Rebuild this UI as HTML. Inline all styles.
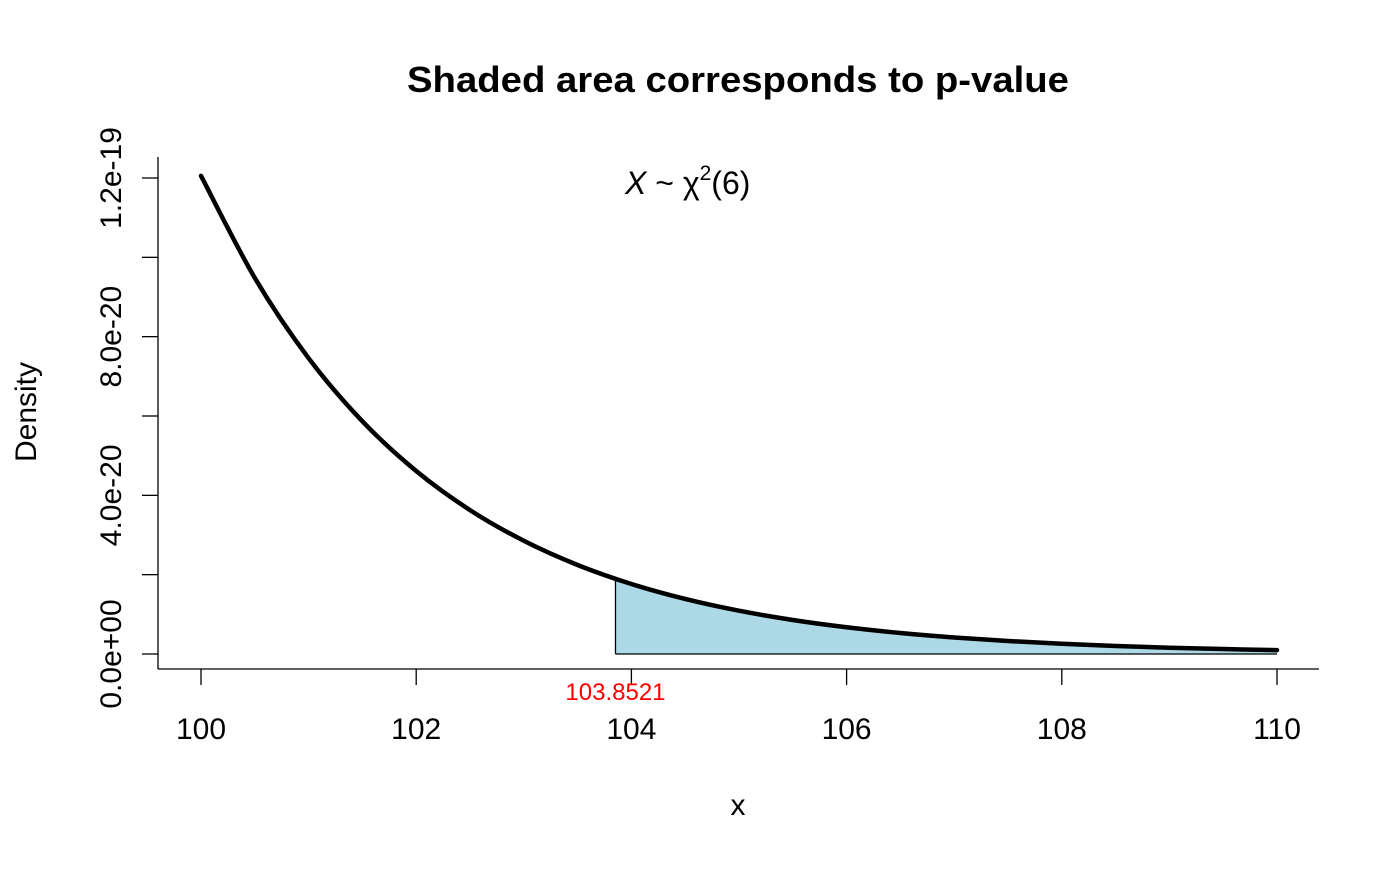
<!DOCTYPE html>
<html><head><meta charset="utf-8"><style>
body{margin:0;background:#fff}
svg text{font-family:"Liberation Sans",Arial,sans-serif}
</style></head><body>
<svg id="chart" width="1400" height="866" xmlns="http://www.w3.org/2000/svg">
<text x="738" y="92" font-size="36" font-weight="bold" text-anchor="middle" textLength="662" lengthAdjust="spacingAndGlyphs">Shaded area corresponds to p-value</text>
<g id="shade"></g>
<path id="curve" fill="none" stroke="#000" stroke-width="4.5" stroke-linecap="round"></path>
<line x1="158" y1="669" x2="1319" y2="669" stroke="#000" stroke-width="1.3"/>
<line x1="158" y1="157" x2="158" y2="669" stroke="#000" stroke-width="1.3"/>
<g id="xticks"></g>
<g id="yticks"></g>
<text x="738" y="815" font-size="30" text-anchor="middle">x</text>
<text transform="translate(36,412) rotate(-90)" font-size="30" text-anchor="middle">Density</text>
<text x="625" y="194" font-size="32"><tspan font-style="italic">X</tspan> ~ χ<tspan dy="-14" font-size="21">2</tspan><tspan dy="14">(6)</tspan></text>
<text id="critlabel" y="700" font-size="24" fill="#ff0000" text-anchor="middle">103.8521</text>
</svg>
<script>
const xs=[100,100.5,101,101.5,102,102.5,103,103.5,104,104.5,105,105.5,106,106.5,107,107.5,108,108.5,109,109.5,110];
const ys=[1.2054e-19,9.482e-20,7.458e-20,5.866e-20,4.614e-20,3.628e-20,2.854e-20,2.244e-20,1.7646e-20,1.3875e-20,1.0909e-20,8.577e-21,6.743e-21,5.301e-21,4.168e-21,3.276e-21,2.575e-21,2.024e-21,1.591e-21,1.2505e-21,9.83e-22];
const xTicks=[100,102,104,106,108,110];
const yTicks=[0,2e-20,4e-20,6e-20,8e-20,1e-19,1.2e-19];
const yTickLabels=["0.0e+00","","4.0e-20","","8.0e-20","","1.2e-19"];
const crit=103.8521;
const NS="http://www.w3.org/2000/svg";
const px=v=>201+(v-100)*(1277-201)/10;
const py=v=>654-v*(654-178)/1.2e-19;
function smooth(pts){let d=`M${pts[0][0]},${pts[0][1]}`;for(let i=0;i<pts.length-1;i++){const p0=pts[Math.max(0,i-1)],p1=pts[i],p2=pts[i+1],p3=pts[Math.min(pts.length-1,i+2)];d+=` C${p1[0]+(p2[0]-p0[0])/6},${p1[1]+(p2[1]-p0[1])/6} ${p2[0]-(p3[0]-p1[0])/6},${p2[1]-(p3[1]-p1[1])/6} ${p2[0]},${p2[1]}`;}return d;}
const pts=xs.map((x,i)=>[px(x),py(ys[i])]);
const curveD=smooth(pts);
document.getElementById('curve').setAttribute('d',curveD);
let k=0;while(xs[k+1]<crit)k++;
const t=(crit-xs[k])/(xs[k+1]-xs[k]);
const yc=ys[k]*Math.pow(ys[k+1]/ys[k],t);
const cx=px(crit);
const sh=document.getElementById('shade');
const cp=document.createElementNS(NS,'clipPath');cp.setAttribute('id','clipc');
const cr=document.createElementNS(NS,'rect');cr.setAttribute('x',cx);cr.setAttribute('y',0);cr.setAttribute('width',1400);cr.setAttribute('height',866);
cp.appendChild(cr);sh.appendChild(cp);
const area=document.createElementNS(NS,'path');


area.setAttribute('d',curveD+` L${px(110)},${py(0)} L${pts[0][0]},${py(0)} Z`);
area.setAttribute('fill','#add8e6');area.setAttribute('clip-path','url(#clipc)');
sh.appendChild(area);
const b1=document.createElementNS(NS,'line');


b1.setAttribute('x1',cx);b1.setAttribute('x2',cx);b1.setAttribute('y1',py(0));b1.setAttribute('y2',py(yc));b1.setAttribute('stroke','#000');b1.setAttribute('stroke-width','1.3');sh.appendChild(b1);
const b2=document.createElementNS(NS,'line');


b2.setAttribute('x1',cx);b2.setAttribute('x2',px(110));b2.setAttribute('y1',py(0));b2.setAttribute('y2',py(0));b2.setAttribute('stroke','#000');b2.setAttribute('stroke-width','1.3');sh.appendChild(b2);
document.getElementById('critlabel').setAttribute('x',cx);
const xg=document.getElementById('xticks');
xTicks.forEach(v=>{const l=document.createElementNS(NS,'line');


l.setAttribute('x1',px(v));l.setAttribute('x2',px(v));l.setAttribute('y1',669);l.setAttribute('y2',685);l.setAttribute('stroke','#000');l.setAttribute('stroke-width','1.3');xg.appendChild(l);
const tx=document.createElementNS(NS,'text');


tx.setAttribute('x',px(v));tx.setAttribute('y',739);tx.setAttribute('font-size','30');tx.setAttribute('text-anchor','middle');tx.textContent=v;xg.appendChild(tx);});
const yg=document.getElementById('yticks');
yTicks.forEach((v,i)=>{const l=document.createElementNS(NS,'line');


l.setAttribute('x1',142);l.setAttribute('x2',158);l.setAttribute('y1',py(v));l.setAttribute('y2',py(v));l.setAttribute('stroke','#000');l.setAttribute('stroke-width','1.3');yg.appendChild(l);
if(yTickLabels[i]){const tx=document.createElementNS(NS,'text');


tx.setAttribute('transform',`translate(121,${py(v)}) rotate(-90)`);tx.setAttribute('font-size','30');tx.setAttribute('text-anchor','middle');tx.textContent=yTickLabels[i];yg.appendChild(tx);}});
</script>
</body></html>
